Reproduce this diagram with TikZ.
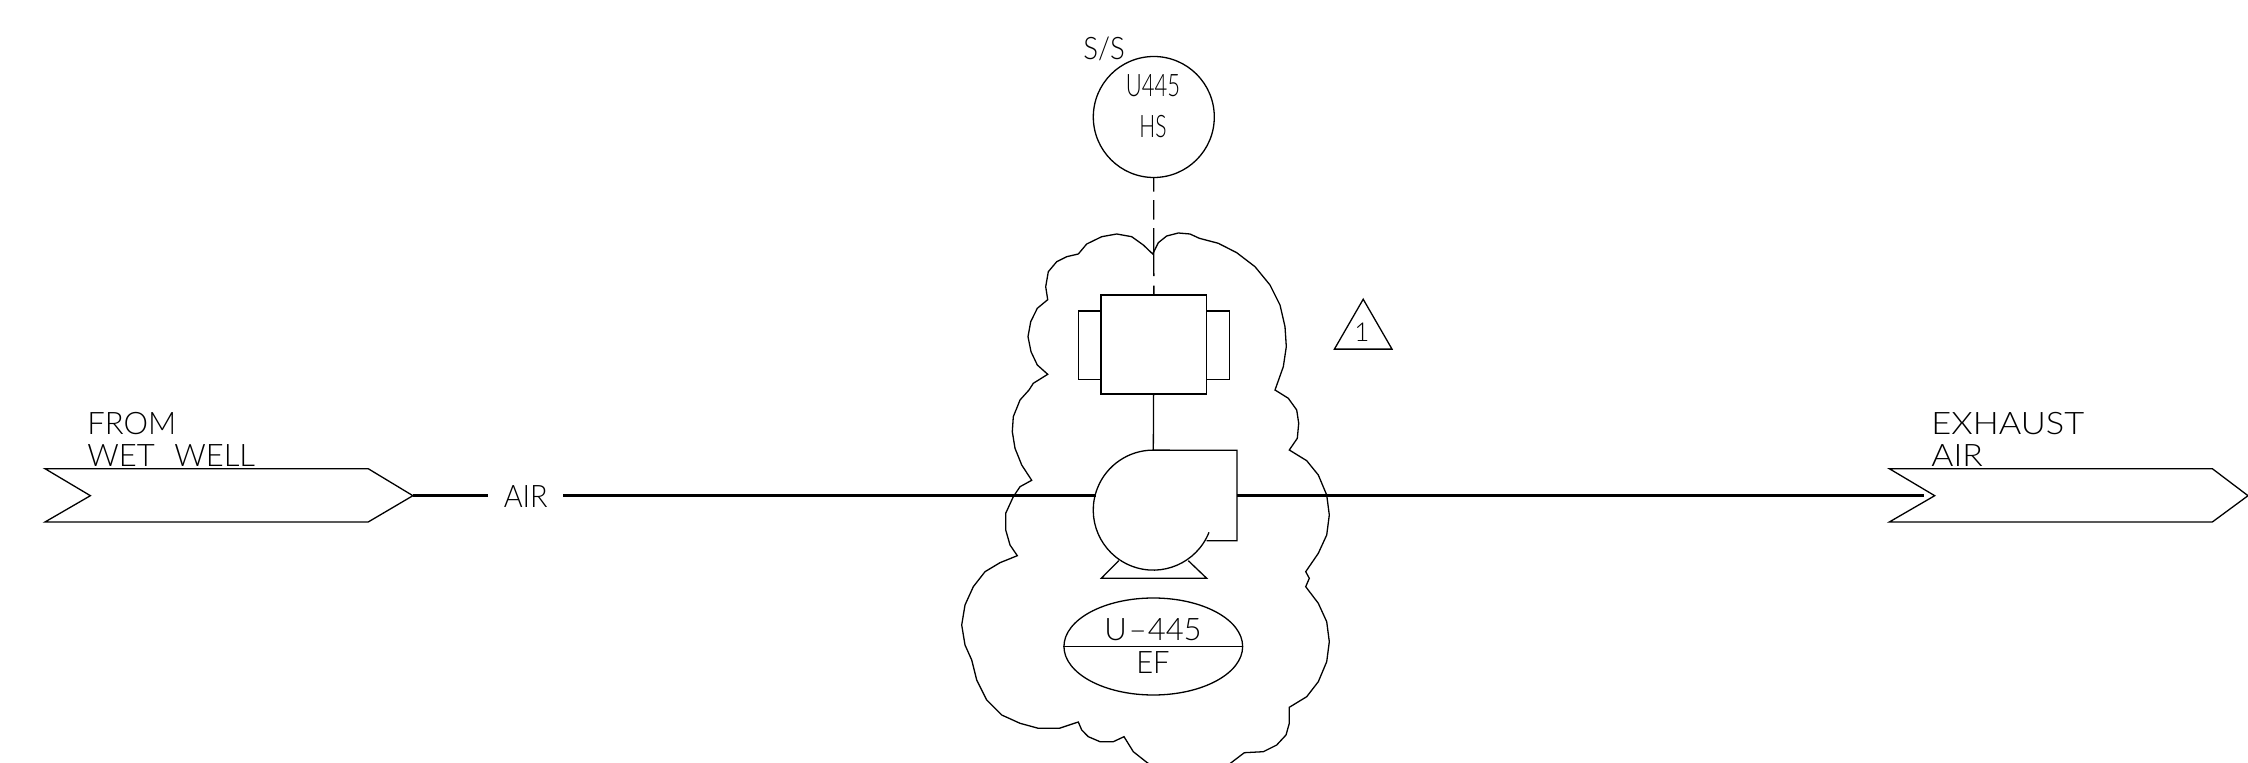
\documentclass[tikz,border=0pt]{standalone}
\usepackage{fontspec}
\usepackage{graphicx}
\usepackage{xcolor}
\usetikzlibrary{shapes.geometric}
\setsansfont{Lato Light}
\definecolor{vblack}{HTML}{000000}
\tikzset{
	thinline/.style = {draw = vblack, line width = 0.65pt},
	mainline/.style = {draw = vblack, line width = 1.25pt},
	tagtext/.style = {inner sep = 0pt, text = vblack, font = \sffamily\fontsize{15.5}{15.5}\selectfont},
	sidebox/.style = {thinline, rectangle, inner sep = 0pt, outer sep = 0pt, minimum width = 11.35pt, minimum height = 34.15pt},
}
\begin{document}
\begin{tikzpicture}[scale = 0.5, yscale = -1, x = 1pt, y = 1pt]
	\useasboundingbox (0,0) rectangle (2248,763);
	% cloud
	\draw[thinline] (1152.7,254) -- (1158.3,242.7) -- (1166.7,236) -- (1178.3,233) -- (1190,234) -- (1199.3,238.3) -- (1218.3,243.3) -- (1236.7,252.7) -- (1255,266.7) -- (1270,285) -- (1280,305) -- (1285,326.7) -- (1286.3,346.7) -- (1283.3,366.7) -- (1275,390)
		-- (1288.3,398.3) -- (1296.7,410) -- (1298.7,423.3) -- (1297.3,438.3) -- (1289.3,450) -- (1306.7,460.7) -- (1318.3,475) -- (1326.7,495) -- (1329.3,515) -- (1326.7,535) -- (1318.3,553.3) -- (1305.7,571.7) -- (1309.3,578.3) -- (1305.7,586.7)
		-- (1318.3,603.3) -- (1326.7,621.7) -- (1329.3,641.7) -- (1326.7,661.7) -- (1318.3,681.7) -- (1306.7,696.7) -- (1289.3,707.3) -- (1289.3,723.3) -- (1286,735) -- (1276.7,745) -- (1263.3,751.7) -- (1244.3,752.7) -- (1231.7,762.3) -- (1215,775)
		-- (1165,775) -- (1146.7,762.3) -- (1133.3,751.7) -- (1124,736.7) -- (1113.3,741.7) -- (1100,741.7) -- (1088.3,736.7) -- (1081.7,730) -- (1078.3,722) -- (1059.3,728.3) -- (1038.3,728.3) -- (1020,723.3) -- (1001.7,715) -- (986.7,700) -- (976.7,680) -- (971.7,660) -- (965,645) -- (961.7,625) -- (965,605) -- (973.3,586.7) -- (985,571.7) -- (1000,562.7) -- (1017.3,555.7)
		-- (1010,545) -- (1005.7,530) -- (1005.7,513.3) -- (1013.3,496.7) -- (1020,486.7) -- (1031.7,480.3) -- (1021.7,465) -- (1015,448.3) -- (1012.3,431.7) -- (1013.3,416.7) -- (1020,400) -- (1029,390) -- (1033.3,383.3) -- (1047.7,374.3)
		-- (1037.3,365) -- (1031,351.7) -- (1028,336.7) -- (1030.7,321.7) -- (1037.3,308.3) -- (1047.7,299.7) -- (1045.7,286.7) -- (1048.3,271.7) -- (1056.7,261.7) -- (1066.7,256.7) -- (1078.3,254) -- (1086.7,244) -- (1101.7,236.7) -- (1116.7,234) -- (1131.7,236.7) -- (1143.3,245) -- cycle;
	% instrument
	\node[thinline, circle, inner sep = 0pt, minimum size = 60.5pt] (hsbubble) at (1153.8,117) {};
	\node[tagtext] (sstext) at (1104,49) {\scalebox{0.89}[1]{S/S}};
	\node[tagtext] (hsnumber) at (1153,86) {\scalebox{0.71}[1]{U445}};
	\node[tagtext] (hstext) at (1153,126.5) {\scalebox{0.68}[1]{HS}};
	% motor
	\node[thinline, rectangle, inner sep = 0pt, outer sep = 0pt, minimum width = 52.85pt, minimum height = 49.5pt] (motorbox) at (1153.85,344.5) {};
	\node[sidebox, anchor = east] (motorleft) at (motorbox.west |- 0,345.15) {};
	\node[sidebox, anchor = west] (motorright) at (motorbox.east |- 0,345.15) {};
	\draw[thinline, dash pattern = on 6.75pt off 4.25pt on 9.75pt off 4.25pt on 24pt off 4.75pt on 5pt off 5pt] (hsbubble) -- (motorbox);
	% fan
	\coordinate (fantop) at (1153.3,450.3);
	\coordinate (fanleft) at (1095.7,495.7);
	\coordinate (fanright) at (1237,495.7);
	\draw[thinline] (1209,532.3) arc[start angle = 21.7, end angle = 270, radius = 60] -- (1237,450.3) -- (1237,540.7) -- (1206.7,540.7);
	\draw[thinline] (1118.7,560.7) -- (1101.3,578.3) -- (1206.7,578.3) -- (1188.3,560.7);
	\draw[thinline] (motorbox) -- (fantop);
	% equipment tag
	\node[thinline, ellipse, inner sep = 0pt, minimum width = 89.35pt, minimum height = 48.5pt] (eftag) at (1153.3,646.5) {};
	\draw[thinline] (eftag.west) -- (eftag.east);
	\node[tagtext] (eftop) at (1153,630) {U\kern1pt--\kern0.5pt445};
	\node[tagtext] (efbottom) at (1153,662.5) {\scalebox{0.94}[1]{EF}};
	% revision
	\node[thinline, isosceles triangle, isosceles triangle apex angle = 60, shape border rotate = 90, inner sep = 0pt, minimum height = 24.8pt, minimum width = 28.8pt] (revmark) at (1363.2,332.5) {};
	\node[tagtext, font = \sffamily\fontsize{13}{13}\selectfont] (revtext) at (1362,332) {1};
	% flags
	\coordinate (inflagtip) at (412.9,495.7);
	\coordinate (outflagnotch) at (1924.3,495.7);
	\draw[thinline] (45,468.7) -- (368.2,468.7) -- (inflagtip) -- (368.2,522) -- (45,522) -- (90.4,495.7) -- cycle;
	\draw[thinline] (1889.3,468.7) -- (2212.3,468.7) -- (2248,495.7) -- (2212.3,522) -- (1889.3,522) -- (1934.7,495.7) -- cycle;
	\node[tagtext, anchor = west] (fromtext) at (87,424) {FROM};
	\node[tagtext, anchor = west] (welltext) at (87,456) {WET\hspace{5.5pt} WELL};
	\node[tagtext, anchor = west] (exhausttext) at (1931,424) {\scalebox{1.11}[1]{EXHAUST}};
	\node[tagtext, anchor = west] (airtext) at (1931,456) {\scalebox{1.09}[1]{AIR}};
	% process line
	\node[tagtext, minimum width = 37.15pt] (airlabel) at (525.75,496.5) {\scalebox{0.93}[1]{AIR}};
	\draw[mainline] (inflagtip) -- (inflagtip -| airlabel.west);
	\draw[mainline] (inflagtip -| airlabel.east) -- (fanleft);
	\draw[mainline] (fanright) -- (outflagnotch);
\end{tikzpicture}
\end{document}
